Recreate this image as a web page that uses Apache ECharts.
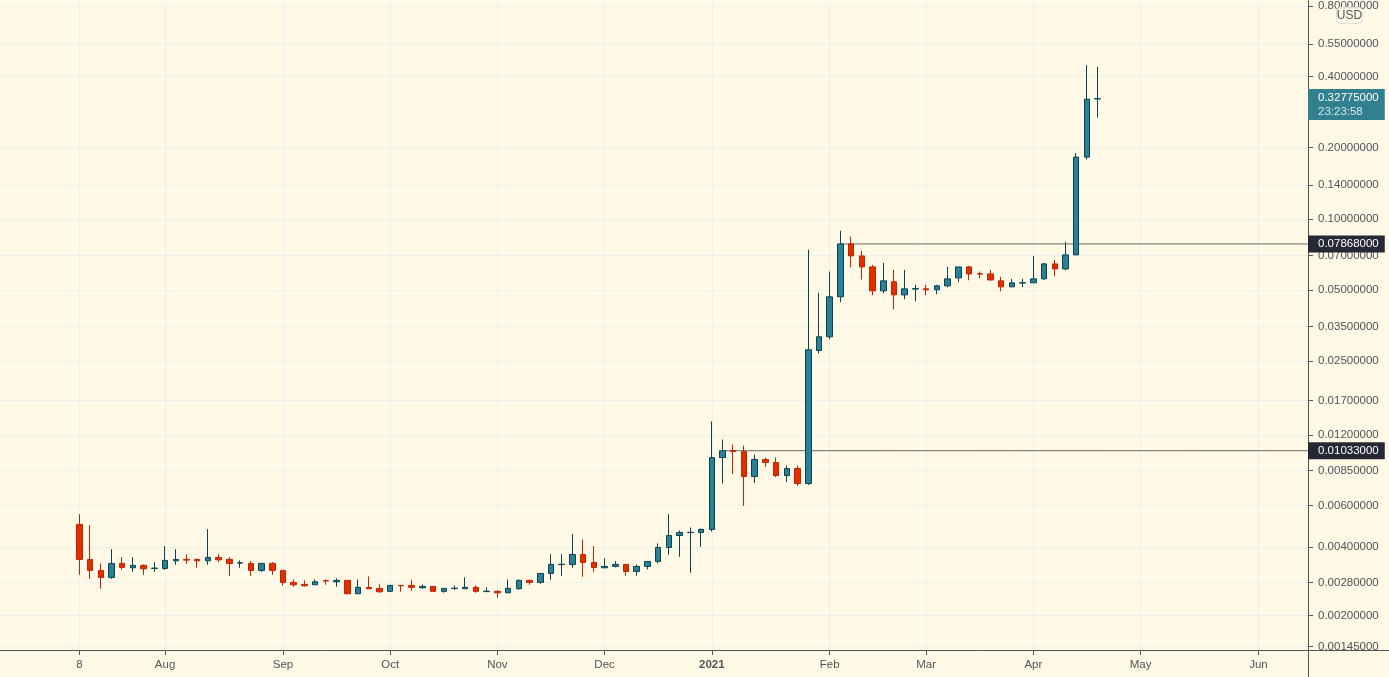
<!DOCTYPE html>
<html>

<head>
    <meta charset="utf-8">
    <title>USD chart</title>
    <script src="https://cdn.jsdelivr.net/npm/echarts@6/dist/echarts.min.js"></script>
    <style>
        html, body { margin: 0; padding: 0; background: #fff9e6; overflow: hidden; }
    </style>
</head>
<body>
<div id="main" style="width: 1389px;height:677px;"></div>
<script>
    // 3-day candles, one entry per candle, oldest first
    var opens = [
        0.005006, 0.003552, 0.003189, 0.002977, 0.003416, 0.003272, 0.003350, 0.003252, 0.003252, 0.003504,
        0.003552, 0.003552, 0.003504, 0.003622, 0.003552, 0.003426, 0.003416, 0.003189, 0.003416, 0.003189,
        0.002835, 0.002780, 0.002770, 0.002885, 0.002852, 0.002891, 0.002535, 0.002700, 0.002673, 0.002596,
        0.002753, 0.002753, 0.002690, 0.002726, 0.002596, 0.002668, 0.002663, 0.002700, 0.002590, 0.002596,
        0.002560, 0.002663, 0.002891, 0.002835, 0.003096, 0.003377, 0.003382, 0.003730, 0.003449, 0.003272,
        0.003317, 0.003382, 0.003157, 0.003317, 0.003483, 0.003995, 0.004494, 0.004623, 0.004628, 0.004767,
        0.009656, 0.01033, 0.01024, 0.008015, 0.009468, 0.009194, 0.008095, 0.008670, 0.007483, 0.02764,
        0.03162, 0.04680, 0.07868, 0.06995, 0.06280, 0.04963, 0.05421, 0.04772, 0.05052, 0.05062,
        0.05012, 0.05213, 0.05638, 0.06280, 0.05873, 0.05863, 0.05475, 0.05162, 0.05359, 0.05369,
        0.05583, 0.06468, 0.06158, 0.07064, 0.1846, 0.3267
    ];
    var closes = [
        0.003552, 0.003189, 0.002977, 0.003416, 0.003284, 0.003350, 0.003240, 0.003262, 0.003518, 0.003552,
        0.003528, 0.003504, 0.003622, 0.003538, 0.003416, 0.003436, 0.003189, 0.003416, 0.003189, 0.002835,
        0.002770, 0.002743, 0.002852, 0.002875, 0.002891, 0.002535, 0.002700, 0.002663, 0.002586, 0.002753,
        0.002743, 0.002700, 0.002726, 0.002596, 0.002673, 0.002678, 0.002700, 0.002596, 0.002600, 0.002560,
        0.002673, 0.002891, 0.002835, 0.003096, 0.003382, 0.003387, 0.003730, 0.003449, 0.003284, 0.003317,
        0.003382, 0.003157, 0.003317, 0.003483, 0.003995, 0.004494, 0.004628, 0.004633, 0.004767, 0.009656,
        0.01033, 0.01024, 0.008015, 0.009468, 0.009194, 0.008095, 0.008670, 0.007483, 0.02783, 0.03162,
        0.04680, 0.07868, 0.06995, 0.06280, 0.04963, 0.05475, 0.04772, 0.05062, 0.05072, 0.05012,
        0.05213, 0.05583, 0.06280, 0.05863, 0.05853, 0.05528, 0.05162, 0.05369, 0.05379, 0.05583,
        0.06468, 0.06158, 0.07064, 0.1846, 0.3260, 0.32775
    ];
    var lows = [
        0.003054, 0.002937, 0.002663, 0.002937, 0.003208, 0.003145, 0.003054, 0.003145, 0.003208, 0.003369,
        0.003402, 0.003272, 0.003369, 0.003460, 0.003024, 0.003272, 0.003024, 0.003145, 0.003054, 0.002743,
        0.002716, 0.002716, 0.002770, 0.002770, 0.002716, 0.002535, 0.002535, 0.002663, 0.002560, 0.002596,
        0.002586, 0.002611, 0.002663, 0.002596, 0.002560, 0.002637, 0.002663, 0.002560, 0.002586, 0.002438,
        0.002560, 0.002637, 0.002770, 0.002797, 0.002908, 0.003024, 0.003272, 0.002995, 0.003145, 0.003272,
        0.003284, 0.003024, 0.003024, 0.003220, 0.003416, 0.003716, 0.003644, 0.003114, 0.004019, 0.004674,
        0.007483, 0.008222, 0.006008, 0.007527, 0.008806, 0.007984, 0.007601, 0.007309, 0.007381, 0.02684,
        0.03088, 0.04439, 0.06255, 0.05545, 0.04754, 0.04848, 0.04144, 0.04571, 0.04482, 0.04754,
        0.04801, 0.05142, 0.05400, 0.05506, 0.05616, 0.05475, 0.04944, 0.05162, 0.05142, 0.05369,
        0.05528, 0.05727, 0.06073, 0.07064, 0.1804, 0.2722
    ];
    var highs = [
        0.005538, 0.004972, 0.003416, 0.003930, 0.003633, 0.003633, 0.003382, 0.003460, 0.004047, 0.003930,
        0.003741, 0.003587, 0.004781, 0.003741, 0.003633, 0.003518, 0.003494, 0.003416, 0.003460, 0.003189,
        0.002919, 0.002891, 0.002919, 0.002919, 0.002948, 0.002891, 0.002919, 0.003006, 0.002780, 0.002753,
        0.002753, 0.002900, 0.002780, 0.002726, 0.002673, 0.002753, 0.002977, 0.002753, 0.002700, 0.002621,
        0.002919, 0.002919, 0.002919, 0.003096, 0.003741, 0.003741, 0.004552, 0.004321, 0.004047, 0.003587,
        0.003494, 0.003382, 0.003382, 0.003483, 0.004155, 0.005538, 0.004720, 0.004861, 0.004814, 0.01378,
        0.01152, 0.01097, 0.01086, 0.009945, 0.009656, 0.009656, 0.008928, 0.008928, 0.07441, 0.04867,
        0.05997, 0.08964, 0.08452, 0.07346, 0.06404, 0.06531, 0.06098, 0.06098, 0.05264, 0.05264,
        0.05264, 0.06280, 0.06280, 0.06342, 0.05997, 0.06098, 0.05693, 0.05583, 0.05583, 0.06995,
        0.06531, 0.06726, 0.08024, 0.1920, 0.4549, 0.4474
    ];

    // x axis: candle index of each label
    var monthTicks = [0, 8, 19, 29, 39, 49, 59, 70, 79, 89, 99, 110];
    var monthLabels = ['8', 'Aug', 'Sep', 'Oct', 'Nov', 'Dec', '2021', 'Feb', 'Mar', 'Apr', 'May', 'Jun'];

    // y axis: the printed label is rounded, the grid line sits at the value next to it
    var priceTicks = [0.8137, 0.5606, 0.4069, 0.2028, 0.1403, 0.1005, 0.07015, 0.05012, 0.03497,
        0.02494, 0.01693, 0.01202, 0.0085, 0.006032, 0.004019, 0.002835, 0.00205, 0.001507];
    var priceTickLabels = ['0.80000000', '0.55000000', '0.40000000', '0.20000000', '0.14000000', '0.10000000',
        '0.07000000', '0.05000000', '0.03500000', '0.02500000', '0.01700000', '0.01200000', '0.00850000',
        '0.00600000', '0.00400000', '0.00280000', '0.00200000', '0.00145000'];

    // horizontal levels: [first candle, price]
    var levelHigh = [71, 0.07868];
    var levelLow = [60, 0.01033];
    var lastPrice = 0.32775;
    var countdown = '23:23:58';

    var xMin = -7.4;
    var xMax = 114.62;
    var yMin = 0.0014596;
    var yMax = 0.8547;

    var textColor = '#50535e';
    var fontName = 'Liberation Sans';

    var candleData = [];
    for (var i = 0; i < opens.length; i++) {
        candleData.push([i, opens[i], closes[i], lows[i], highs[i]]);
    }

    function tagLabel(bg, formatter, rich, offset) {
        return {
            show: true,
            position: 'right',
            distance: 0,
            offset: offset || [0, 0],
            formatter: formatter,
            backgroundColor: bg,
            color: '#fff',
            fontFamily: fontName,
            fontSize: 11.5,
            lineHeight: 14,
            padding: [2, 6, 1, 10],
            rich: rich
        };
    }

    var myChart = echarts.init(document.getElementById('main'));
    myChart.setOption({
        animation: false,
        backgroundColor: '#fff9e6',
        grid: { left: 0, right: 81, top: 0, bottom: 27 },
        xAxis: {
            type: 'value',
            min: xMin,
            max: xMax,
            axisLine: { show: true, onZero: false, lineStyle: { color: textColor } },
            axisTick: { show: true, customValues: monthTicks, length: 5, lineStyle: { color: textColor } },
            axisLabel: {
                customValues: monthTicks,
                color: textColor,
                fontFamily: fontName,
                fontSize: 11.5,
                margin: 9,
                formatter: function (value) {
                    var text = monthLabels[monthTicks.indexOf(value)];
                    return text === '2021' ? '{b|2021}' : text;
                },
                rich: { b: { fontWeight: 'bold', color: textColor, fontFamily: fontName, fontSize: 11.5 } }
            },
            splitLine: { show: true, lineStyle: { color: '#eaf0ee', width: 1 } }
        },
        yAxis: {
            type: 'log',
            position: 'right',
            min: yMin,
            max: yMax,
            axisLine: { show: true, onZero: false, lineStyle: { color: textColor } },
            axisTick: { show: true, customValues: priceTicks, length: 5, lineStyle: { color: textColor } },
            axisLabel: {
                customValues: priceTicks,
                color: textColor,
                fontFamily: fontName,
                fontSize: 11.5,
                margin: 10,
                formatter: function (value) {
                    for (var i = 0; i < priceTicks.length; i++) {
                        if (Math.abs(priceTicks[i] - value) / value < 1e-6) {
                            return priceTickLabels[i];
                        }
                    }
                    return '';
                }
            },
            splitLine: { show: true, lineStyle: { color: '#eaf0ee', width: 1 } }
        },
        series: [
            {
                type: 'line',
                data: [levelHigh, [xMax, levelHigh[1]]],
                symbol: 'none',
                z: 1,
                lineStyle: { color: '#6a6a68', width: 1 }
            },
            {
                type: 'line',
                data: [levelLow, [xMax, levelLow[1]]],
                symbol: 'none',
                z: 1,
                lineStyle: { color: '#6a6a68', width: 1 }
            },
            {
                type: 'candlestick',
                data: candleData,
                barWidth: 6,
                z: 2,
                itemStyle: {
                    color: '#2b8093',
                    color0: '#e03000',
                    borderColor: '#064454',
                    borderColor0: '#c22200',
                    borderWidth: 1
                }
            },
            {
                type: 'scatter',
                symbolSize: 0,
                clip: false,
                z: 10,
                itemStyle: { opacity: 1 },
                data: [
                    { value: [xMax, levelHigh[1]], label: tagLabel('#262835', '' + levelHigh[1].toFixed(8)) },
                    { value: [xMax, levelLow[1]], label: tagLabel('#262835', '' + levelLow[1].toFixed(8)) },
                    {
                        value: [xMax, lastPrice],
                        label: tagLabel('#31808f', lastPrice.toFixed(8) + '\n{t|' + countdown + '}', {
                            t: { color: '#d5e8ec', fontFamily: fontName, fontSize: 11.5, lineHeight: 14 }
                        }, [0, 6])
                    }
                ]
            }
        ],
        graphic: [
            // the two axis lines run on to the window edge
            { type: 'line', shape: { x1: 1308.5, y1: 650, x2: 1308.5, y2: 677 }, style: { stroke: textColor, lineWidth: 1 }, z: 20 },
            { type: 'line', shape: { x1: 1308, y1: 650.5, x2: 1389, y2: 650.5 }, style: { stroke: textColor, lineWidth: 1 }, z: 20 },
            {
                type: 'rect',
                shape: { x: 1336.5, y: 7.5, width: 26, height: 16, r: 4 },
                style: { fill: 'rgba(255,249,230,0.85)', stroke: '#dedfd8', lineWidth: 1 },
                z: 20
            },
            {
                type: 'text',
                x: 1349.5,
                y: 15.5,
                style: { text: 'USD', fill: textColor, font: '12px "Liberation Sans"', align: 'center', verticalAlign: 'middle' },
                z: 21
            }
        ]
    });
</script>

</body>
</html>
